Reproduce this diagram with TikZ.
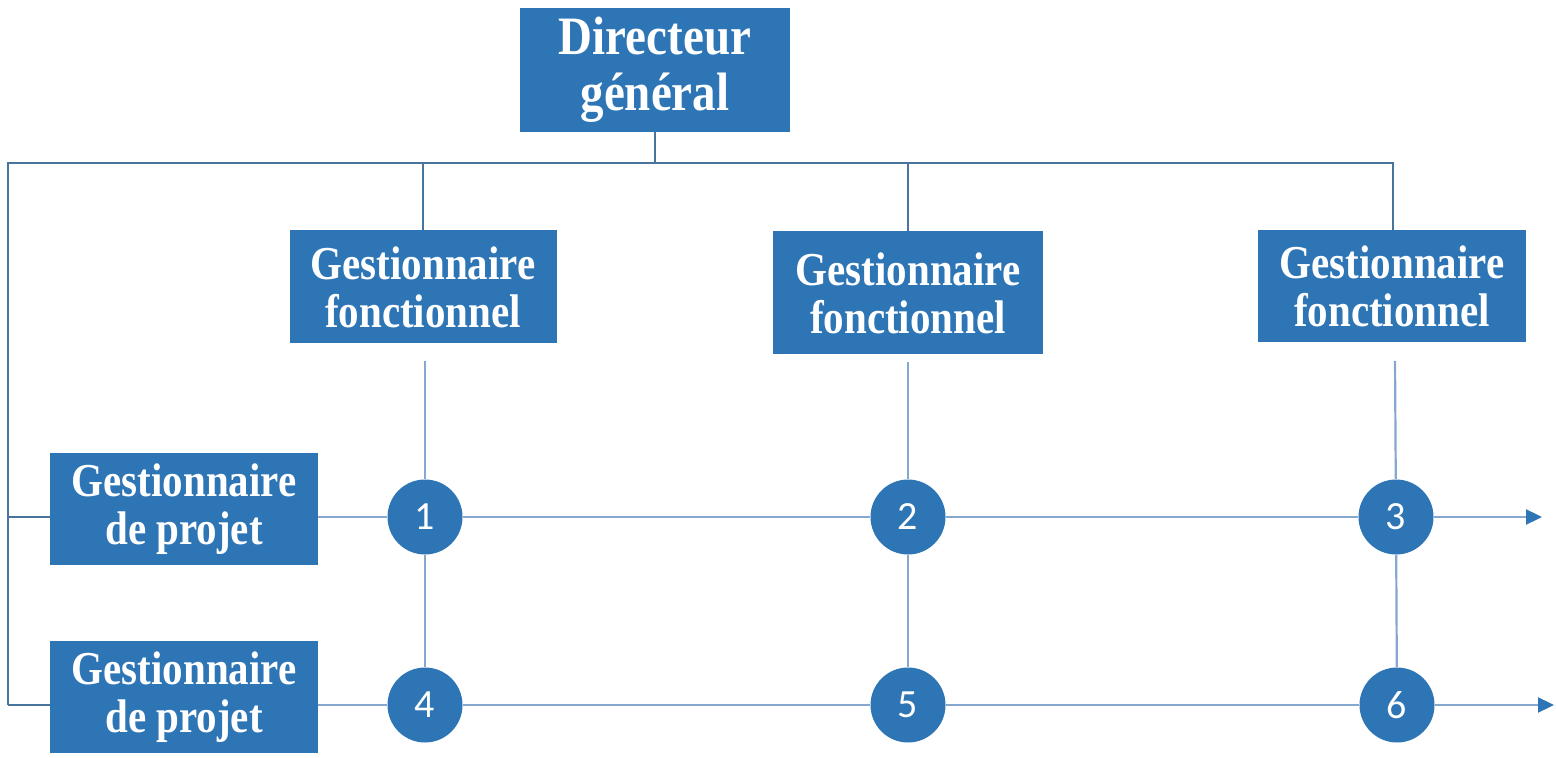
\documentclass[tikz,border=0pt]{standalone}
\usepackage{fontspec}
\setmainfont{Liberation Serif}
\newfontfamily\numfont{Carlito}
\usetikzlibrary{arrows.meta}
\definecolor{boxblue}{HTML}{2E75B6}
\definecolor{topline}{HTML}{4A74A0}
\definecolor{lowline}{HTML}{86A8CE}
\newcommand{\tl}[1]{\scalebox{1}[1.15]{#1}}
\tikzset{
  box/.style={fill=boxblue, draw=none, text=white, align=center, inner sep=0pt,
    font=\fontsize{20.5}{24}\selectfont\bfseries},
  dgbox/.style={box, font=\fontsize{23.5}{27}\selectfont\bfseries},
  num/.style={circle, fill=boxblue, draw=none, text=white, minimum size=37.5pt, inner sep=0pt,
    font=\fontsize{20}{20}\numfont},
  tconn/.style={draw=topline, line width=1pt},
  lconn/.style={draw=lowline, line width=1.1pt},
  arr/.style={lconn, -{Triangle[length=8pt,width=7.5pt,color=boxblue]}}
}
\begin{document}
\begin{tikzpicture}[x=0.5pt,y=-0.5pt]
\useasboundingbox (0,0) rectangle (1556,758);
% boxes
\node[dgbox, minimum width=135pt, minimum height=62pt] (dg) at (655,70) {\tl{Directeur}\\[1pt]\tl{général}};
\node[box, minimum width=133.5pt, minimum height=56.5pt] (gf1) at (423,287) {\tl{Gestionnaire}\\\tl{fonctionnel}};
\node[box, minimum width=135pt, minimum height=61.5pt] (gf2) at (908,293) {\tl{Gestionnaire}\\\tl{fonctionnel}};
\node[box, minimum width=134pt, minimum height=56pt] (gf3) at (1392,286) {\tl{Gestionnaire}\\\tl{fonctionnel}};
\node[box, minimum width=134pt, minimum height=56pt] (gp1) at (184,509) {\tl{Gestionnaire}\\\tl{de projet}};
\node[box, minimum width=134pt, minimum height=56pt] (gp2) at (184,697) {\tl{Gestionnaire}\\\tl{de projet}};
% circles
\node[num] (c1) at (425,517) {1};
\node[num] (c2) at (908,517) {2};
\node[num] (c3) at (1396,517) {3};
\node[num] (c4) at (425,705) {4};
\node[num] (c5) at (908,705) {5};
\node[num] (c6) at (1397,705) {6};
% coordinates
\coordinate (tleft) at (8,163);
\coordinate (r1) at (8,517);
\coordinate (r2) at (8,705);
\coordinate (e1) at (1542,517);
\coordinate (e2) at (1554,705);
\coordinate (s1) at (425,361);
\coordinate (s2) at (908,362);
\coordinate (s3) at (1395,361);
% top connectors
\draw[tconn] (dg.south) -- (dg.south |- tleft);
\draw[tconn] (r1) -- (tleft) -- (1393,163) -- (1393,230);
\draw[tconn] (gf1.north) -- (gf1.north |- tleft);
\draw[tconn] (gf2.north) -- (gf2.north |- tleft);
\draw[tconn] (r1) -- (r2);
\draw[tconn] (r1) -- (gp1.west |- r1);
\draw[tconn] (r2) -- (gp2.west |- r2);
% vertical lower lines
\draw[lconn] (s1) -- (c1);
\draw[lconn] (s2) -- (c2);
\draw[lconn] (s3) -- (c3);
\draw[lconn] (c1) -- (c4);
\draw[lconn] (c2) -- (c5);
\draw[lconn] (c3) -- (c6);
% horizontal rows
\draw[lconn] (gp1.east |- r1) -- (c1);
\draw[lconn] (c1) -- (c2);
\draw[lconn] (c2) -- (c3);
\draw[arr] (c3) -- (e1);
\draw[lconn] (gp2.east |- r2) -- (c4);
\draw[lconn] (c4) -- (c5);
\draw[lconn] (c5) -- (c6);
\draw[arr] (c6) -- (e2);
\end{tikzpicture}
\end{document}
